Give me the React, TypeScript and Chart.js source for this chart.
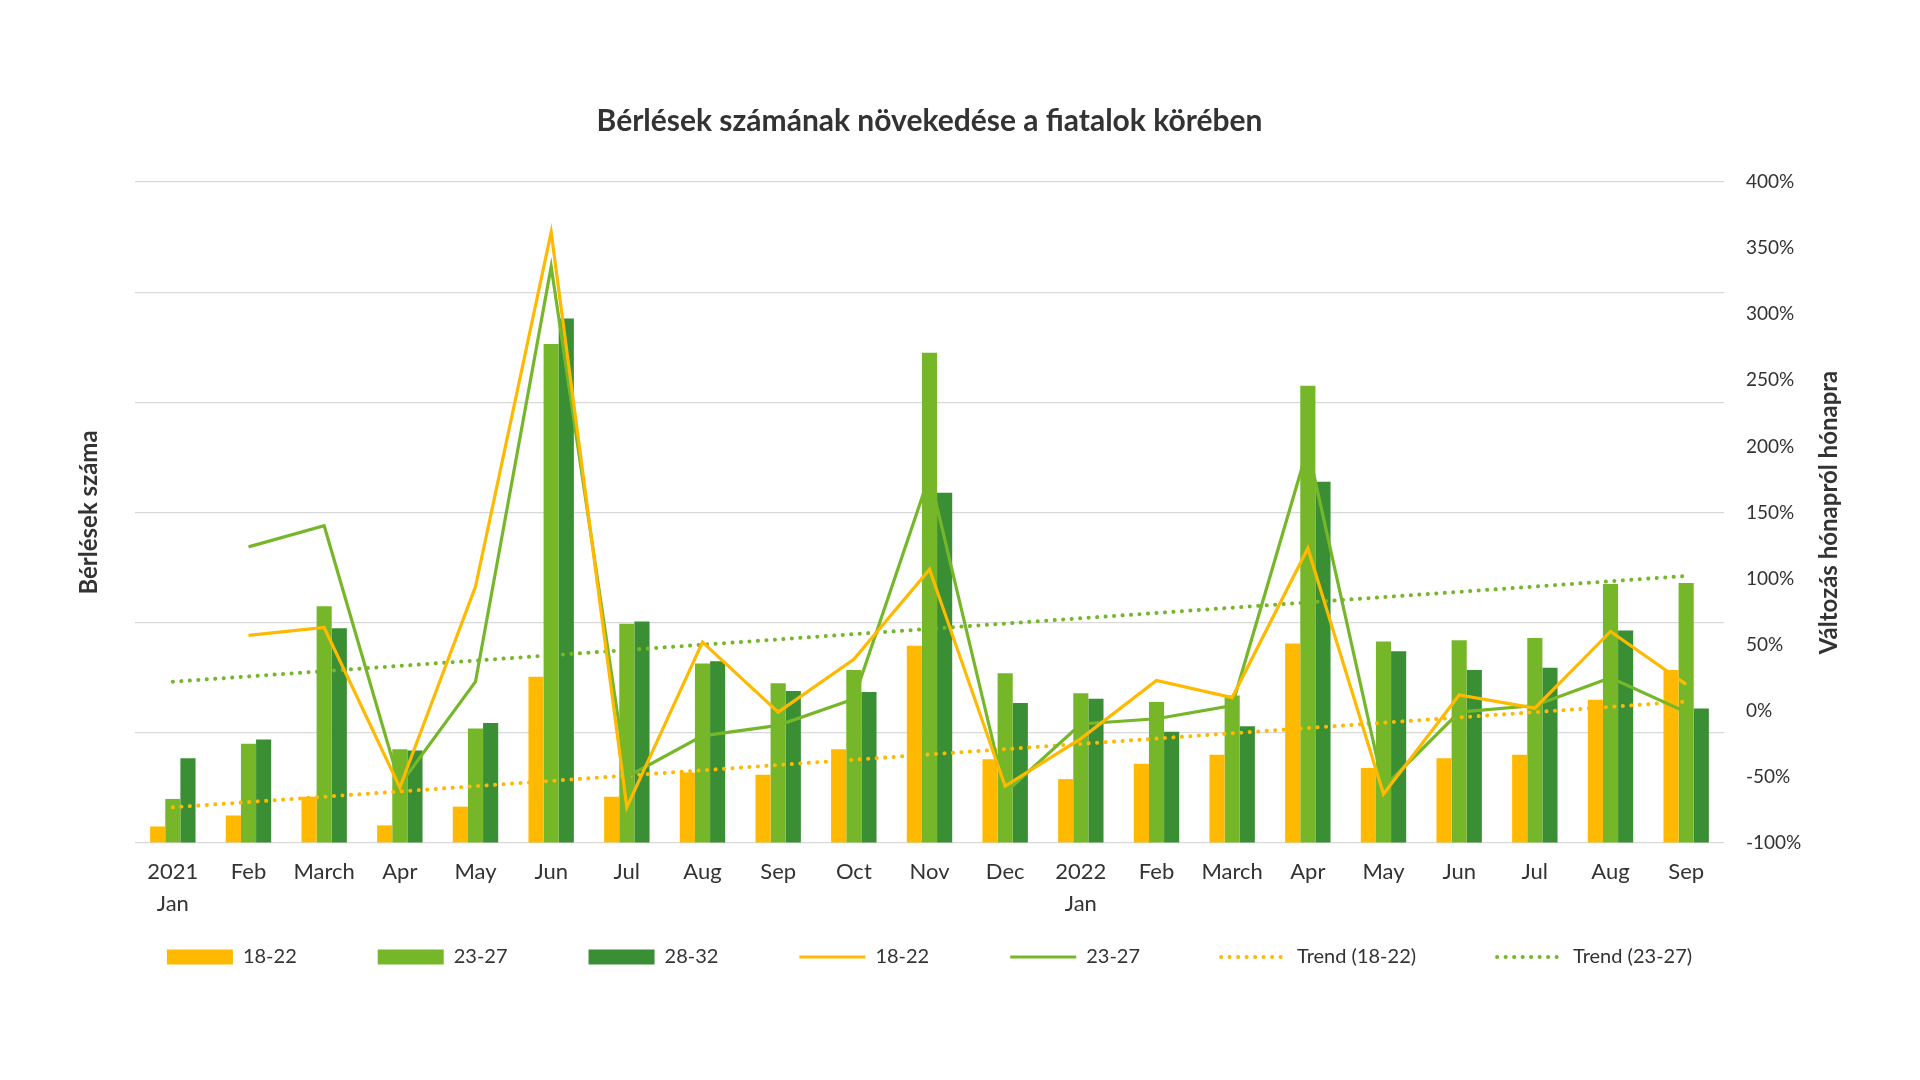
import { useEffect, useRef } from 'react';
import Chart, { type Plugin } from 'chart.js/auto';

// x axis: months, year on a second line for January
const MONTHS: (string | string[])[] = [
  ['2021', 'Jan'], 'Feb', 'March', 'Apr', 'May', 'Jun', 'Jul', 'Aug', 'Sep', 'Oct', 'Nov', 'Dec',
  ['2022', 'Jan'], 'Feb', 'March', 'Apr', 'May', 'Jun', 'Jul', 'Aug', 'Sep',
];

// rentals per age group (left axis, no tick labels in the original)
const RENT_18_22 = [15, 25, 42, 16, 33, 151, 42, 64, 62, 85, 179, 76, 58, 72, 80, 181, 68, 77, 80, 130, 157];
const RENT_23_27 = [40, 90, 215, 85, 104, 453, 199, 163, 145, 157, 445, 154, 136, 128, 134, 415, 183, 184, 186, 235, 236];
const RENT_28_32 = [77, 94, 195, 84, 109, 476, 201, 165, 138, 137, 318, 127, 131, 101, 106, 328, 174, 157, 159, 193, 122];

// month over month change in % (right axis)
const CHANGE_18_22 = [null, 57, 63, -58, 94, 362, -73, 52, -1, 39, 107, -57, -21, 23, 10, 123, -63, 12, 2, 60, 20];
const CHANGE_23_27 = [null, 124, 140, -56, 22, 336, -50, -19, -11, 9, 178, -62, -10, -6, 4, 199, -58, -1, 4, 25, -1];

// linear trend lines, only the two ends are given
const TREND_18_22 = [-73, null, null, null, null, null, null, null, null, null, null, null, null, null, null, null, null, null, null, null, 7];
const TREND_23_27 = [22, null, null, null, null, null, null, null, null, null, null, null, null, null, null, null, null, null, null, null, 102];

const LEFT_TICKS = { min: 0, max: 600, step: 100 };
const RIGHT_TICKS = { min: -100, max: 400, step: 50 };

const YELLOW = '#FFB900';
const LIGHT_GREEN = '#76B72A';
const DARK_GREEN = '#3A8E34';
const TEXT = '#333333';
const FONT = 'Lato, "Open Sans", sans-serif';
const LEGEND_TOP = 866;

// chart.js draws a right axis title top-to-bottom, the original reads bottom-to-top
const rightTitle: Plugin<'bar'> = {
  id: 'rightTitle',
  afterDraw(chart) {
    const { ctx, chartArea } = chart;
    ctx.save();
    ctx.translate(1829, (chartArea.top + chartArea.bottom) / 2);
    ctx.rotate(-Math.PI / 2);
    ctx.font = `bold 24px ${FONT}`;
    ctx.fillStyle = TEXT;
    ctx.textAlign = 'center';
    ctx.textBaseline = 'middle';
    ctx.fillText('Változás hónapról hónapra', 0, 0);
    ctx.restore();
  },
};

// legend row: centred under the plot area and pulled up close to the month labels
const placeLegend: Plugin<'bar'> = {
  id: 'placeLegend',
  afterLayout(chart) {
    const legend = chart.legend;
    if (!legend) return;
    const shift = (chart.chartArea.left + chart.chartArea.right) / 2 - (legend.left + legend.right) / 2;
    legend.left += shift;
    legend.right += shift;
    legend.top = LEGEND_TOP;
    legend.bottom = LEGEND_TOP + legend.height;
  },
};

export default function App() {
  const canvasRef = useRef<HTMLCanvasElement>(null);

  useEffect(() => {
    if (!canvasRef.current) return;

    const lineBase = {
      type: 'line' as const,
      yAxisID: 'y1',
      pointRadius: 0,
      fill: false,
      tension: 0,
    };

    const chart = new Chart(canvasRef.current, {
      type: 'bar',
      data: {
        labels: MONTHS,
        datasets: [
          { label: '18-22', data: RENT_18_22, backgroundColor: YELLOW, borderWidth: 0, order: 2 },
          { label: '23-27', data: RENT_23_27, backgroundColor: LIGHT_GREEN, borderWidth: 0, order: 2 },
          { label: '28-32', data: RENT_28_32, backgroundColor: DARK_GREEN, borderWidth: 0, order: 2 },
          { ...lineBase, label: '18-22', data: CHANGE_18_22, borderColor: YELLOW, backgroundColor: YELLOW, borderWidth: 3.2, order: 0 },
          { ...lineBase, label: '23-27', data: CHANGE_23_27, borderColor: LIGHT_GREEN, backgroundColor: LIGHT_GREEN, borderWidth: 3.2, order: 0 },
          {
            ...lineBase, label: 'Trend (18-22)', data: TREND_18_22, borderColor: YELLOW, backgroundColor: YELLOW,
            borderWidth: 4, borderDash: [0.1, 8.4], borderCapStyle: 'round', spanGaps: true, order: 1,
          },
          {
            ...lineBase, label: 'Trend (23-27)', data: TREND_23_27, borderColor: LIGHT_GREEN, backgroundColor: LIGHT_GREEN,
            borderWidth: 4, borderDash: [0.1, 8.4], borderCapStyle: 'round', spanGaps: true, order: 1,
          },
        ] as any,
      },
      options: {
        animation: false,
        responsive: true,
        maintainAspectRatio: false,
        layout: { padding: { top: 0, bottom: 36.6, left: 0, right: 0 } },
        datasets: {
          bar: { categoryPercentage: 0.6, barPercentage: 1 },
        },
        scales: {
          x: {
            grid: { display: false, drawTicks: false },
            border: { display: false },
            ticks: {
              padding: 12.8,
              color: TEXT,
              maxRotation: 0,
              autoSkip: false,
              font: { family: FONT, size: 22, lineHeight: 1.45 },
            },
          },
          y: {
            position: 'left',
            min: LEFT_TICKS.min,
            max: LEFT_TICKS.max,
            ticks: { display: false, stepSize: LEFT_TICKS.step },
            grid: { color: '#D9D9D9', lineWidth: 1.2, drawTicks: false },
            border: { display: false },
            title: {
              display: true,
              text: 'Bérlések száma',
              color: TEXT,
              font: { family: FONT, size: 24, weight: 'bold', lineHeight: 1.2 },
              padding: { top: 74.5, bottom: 0 },
            },
            afterFit: (scale) => { scale.width = 135; },
          },
          y1: {
            position: 'right',
            min: RIGHT_TICKS.min,
            max: RIGHT_TICKS.max,
            grid: { display: false, drawTicks: false },
            border: { display: false },
            ticks: {
              stepSize: RIGHT_TICKS.step,
              padding: 22,
              color: TEXT,
              font: { family: FONT, size: 19 },
              callback: (v) => `${v}%`,
            },
            afterFit: (scale) => { scale.width = 196; },
          },
        },
        plugins: {
          title: {
            display: true,
            text: 'Bérlések számának növekedése a fiatalok körében',
            color: TEXT,
            fullSize: false,
            font: { family: FONT, size: 30, weight: 'bold', lineHeight: 1.2 },
            padding: { top: 103, bottom: 43 },
          },
          legend: {
            position: 'bottom',
            labels: {
              color: TEXT,
              font: { family: FONT, size: 20 },
              padding: 81,
              usePointStyle: true,
              pointStyleWidth: 66,
              boxHeight: 15,
              sort: (a, b) => (a.datasetIndex ?? 0) - (b.datasetIndex ?? 0),
              generateLabels: (c) =>
                Chart.defaults.plugins.legend.labels.generateLabels(c).map((item) => {
                  const ds = c.data.datasets[item.datasetIndex ?? 0] as any;
                  if (ds.type !== 'line') return { ...item, pointStyle: 'rect', lineWidth: 0 };
                  return {
                    ...item,
                    pointStyle: 'line',
                    strokeStyle: ds.borderColor,
                    lineWidth: ds.borderDash ? 4 : 3,
                    lineDash: ds.borderDash ?? [],
                    lineCap: ds.borderCapStyle ?? 'butt',
                  };
                }),
            },
          },
          tooltip: { enabled: false },
        },
      },
      plugins: [rightTitle, placeLegend],
    });

    return () => chart.destroy();
  }, []);

  return (
    <div style={{ position: 'absolute', left: 0, top: 0, width: 1920, height: 1080, background: '#fff' }}>
      <canvas ref={canvasRef} />
    </div>
  );
}
